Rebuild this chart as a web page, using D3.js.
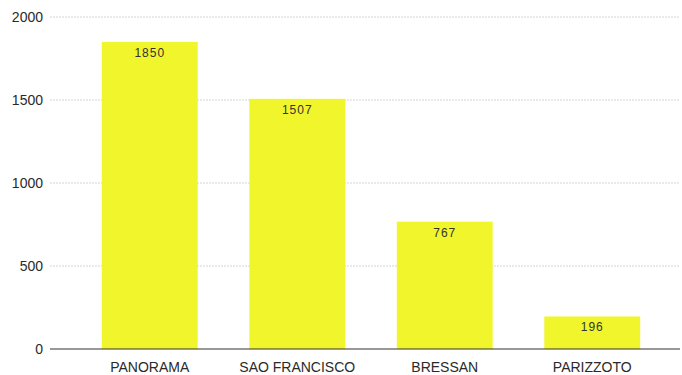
<!DOCTYPE html>
<html><head><meta charset="utf-8">
<script src="https://cdn.jsdelivr.net/npm/d3@7"></script>
<style>body{margin:0;background:#fff;}svg{display:block;font-family:"Liberation Sans",Arial,sans-serif;}</style>
</head><body>
<svg id="c" width="682" height="375"></svg>
<script>
const categories = ["PANORAMA", "SAO FRANCISCO", "BRESSAN", "PARIZZOTO"];
const values = [1850, 1507, 767, 196];
const yTicks = [0, 500, 1000, 1500, 2000];

const svg = d3.select("#c");
const x = d3.scaleBand().domain(categories).range([76, 666]).paddingInner(0.35).paddingOuter(0.175);
const y = d3.scaleLinear().domain([0, 2000]).range([349, 17]);

// gridlines
svg.append("g").selectAll("line").data(yTicks.filter(d => d > 0)).join("line")
  .attr("x1", 50).attr("x2", 680)
  .attr("y1", d => y(d)).attr("y2", d => y(d))
  .attr("stroke", "#d4d4d4").attr("stroke-width", 1).attr("stroke-dasharray", "2,1");

// y axis labels
const yAxis = d3.axisLeft(y).tickValues(yTicks).tickFormat(d3.format("d")).tickSize(0).tickPadding(0);
const gy = svg.append("g").attr("transform", "translate(43,0)").call(yAxis);
gy.select(".domain").remove();
gy.selectAll("text").attr("font-size", 14).attr("fill", "#2a2a2a").attr("font-family", "Liberation Sans, Arial, sans-serif");

// bars
svg.append("g").selectAll("rect").data(values).join("rect")
  .attr("x", (d, i) => x(categories[i]))
  .attr("width", x.bandwidth())
  .attr("y", d => y(d))
  .attr("height", d => y(0) - y(d))
  .attr("fill", "#f0f52c");

// value labels
svg.append("g").selectAll("text").data(values).join("text")
  .attr("x", (d, i) => x(categories[i]) + x.bandwidth() / 2)
  .attr("y", d => y(d) + 15)
  .attr("text-anchor", "middle")
  .attr("font-size", 12).attr("letter-spacing", 1).attr("fill", "#333")
  .text(d => d);

// baseline
svg.append("line").attr("x1", 50).attr("x2", 680).attr("y1", y(0)).attr("y2", y(0))
  .attr("stroke", "#333").attr("stroke-width", 1.2);

// x axis labels
const xAxis = d3.axisBottom(x).tickSize(0).tickPadding(0);
const gx = svg.append("g").attr("transform", `translate(0,${y(0) + 10})`).call(xAxis);
gx.select(".domain").remove();
gx.selectAll("text").attr("font-size", 14).attr("fill", "#2a2a2a").attr("dy", "0.9em").attr("font-family", "Liberation Sans, Arial, sans-serif");
</script>
</body></html>
